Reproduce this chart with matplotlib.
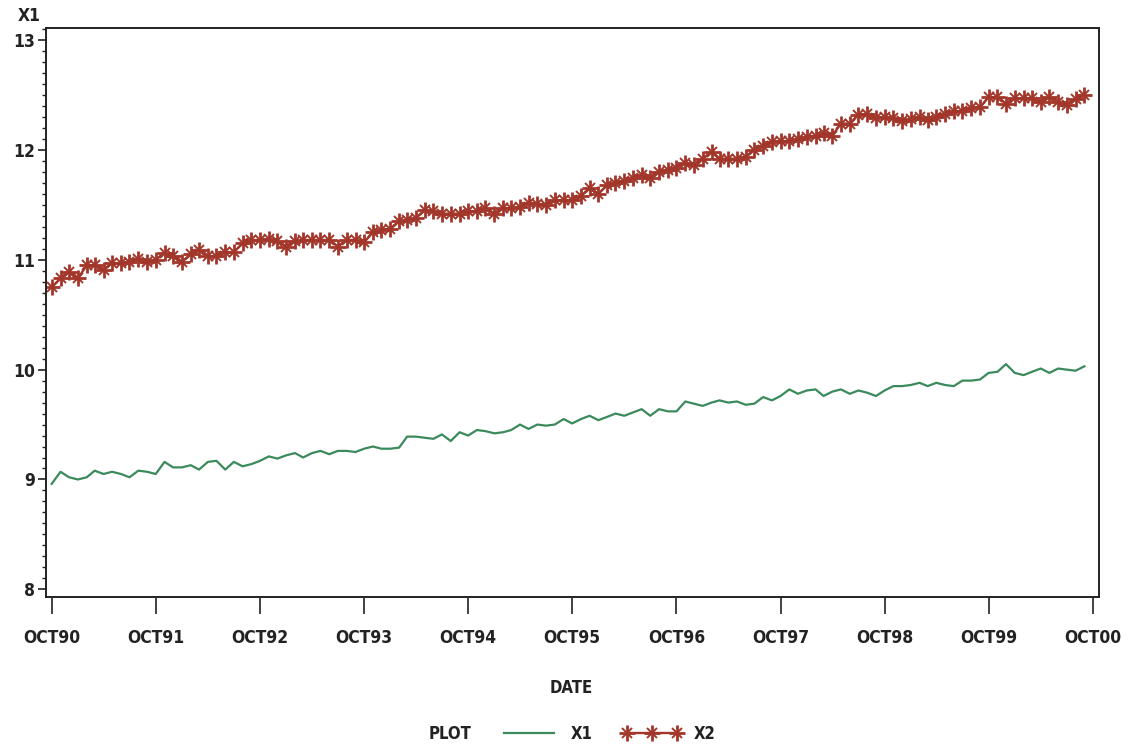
import datetime as dt
import matplotlib
matplotlib.use("Agg")
import matplotlib.pyplot as plt
import matplotlib.dates as mdates
from matplotlib.ticker import MultipleLocator, FixedLocator
from matplotlib.lines import Line2D

# monthly series, Oct 1990 .. Sep 2000
start = dt.date(1990, 10, 1)
x1 = [8.96, 9.07, 9.02, 9.00, 9.02, 9.08, 9.05, 9.07, 9.05, 9.02, 9.08, 9.07,
      9.05, 9.16, 9.11, 9.11, 9.13, 9.09, 9.16, 9.17, 9.09, 9.16, 9.12, 9.14,
      9.17, 9.21, 9.19, 9.22, 9.24, 9.20, 9.24, 9.26, 9.23, 9.26, 9.26, 9.25,
      9.28, 9.30, 9.28, 9.28, 9.29, 9.39, 9.39, 9.38, 9.37, 9.41, 9.35, 9.43,
      9.40, 9.45, 9.44, 9.42, 9.43, 9.45, 9.50, 9.46, 9.50, 9.49, 9.50, 9.55,
      9.51, 9.55, 9.58, 9.54, 9.57, 9.60, 9.58, 9.61, 9.64, 9.58, 9.64, 9.62,
      9.62, 9.71, 9.69, 9.67, 9.70, 9.72, 9.70, 9.71, 9.68, 9.69, 9.75, 9.72,
      9.76, 9.82, 9.78, 9.81, 9.82, 9.76, 9.80, 9.82, 9.78, 9.81, 9.79, 9.76,
      9.81, 9.85, 9.85, 9.86, 9.88, 9.85, 9.88, 9.86, 9.85, 9.90, 9.90, 9.91,
      9.97, 9.98, 10.05, 9.97, 9.95, 9.98, 10.01, 9.97, 10.01, 10.00, 9.99, 10.03]
x2 = [10.75, 10.83, 10.89, 10.83, 10.95, 10.95, 10.91, 10.97, 10.97, 10.98, 11.01, 10.98,
      11.00, 11.06, 11.03, 10.98, 11.05, 11.09, 11.03, 11.03, 11.07, 11.07, 11.15, 11.18,
      11.18, 11.19, 11.17, 11.12, 11.17, 11.18, 11.18, 11.18, 11.18, 11.12, 11.18, 11.18,
      11.16, 11.25, 11.27, 11.28, 11.35, 11.36, 11.38, 11.45, 11.44, 11.42, 11.42, 11.42,
      11.44, 11.44, 11.47, 11.42, 11.47, 11.47, 11.48, 11.52, 11.51, 11.50, 11.54, 11.54,
      11.54, 11.58, 11.65, 11.60, 11.68, 11.70, 11.72, 11.74, 11.77, 11.74, 11.80, 11.82,
      11.84, 11.88, 11.86, 11.92, 11.98, 11.92, 11.92, 11.92, 11.94, 12.00, 12.04, 12.07,
      12.08, 12.08, 12.10, 12.12, 12.13, 12.15, 12.13, 12.24, 12.24, 12.32, 12.33, 12.29,
      12.30, 12.29, 12.26, 12.28, 12.30, 12.27, 12.30, 12.33, 12.35, 12.35, 12.38, 12.39,
      12.48, 12.48, 12.42, 12.47, 12.47, 12.47, 12.44, 12.48, 12.44, 12.41, 12.46, 12.50]
dates = [dt.date(start.year + (start.month - 1 + i) // 12, (start.month - 1 + i) % 12 + 1, 1)
         for i in range(len(x1))]
tick_years = list(range(1990, 2001))
tick_labels = ["OCT%02d" % (y % 100) for y in tick_years]

green = "#3b8a5c"
red = "#a3362a"
ink = "#222222"
plt.rcParams["font.family"] = ["DejaVu Sans"]
plt.rcParams["font.weight"] = "bold"
plt.rcParams["font.stretch"] = "condensed"

fig = plt.figure(figsize=(11.35, 7.47), dpi=100)
ax = fig.add_axes([0.0405, 0.2008, 0.9277, 0.7617])

ax.plot(dates, x1, color=green, lw=1.6)
ax.plot(dates, x2, color=red, lw=1.7, marker="+", ms=11, mew=2.0)
ax.plot(dates, x2, color=red, ls="none", marker="x", ms=7, mew=1.4)

ax.set_xlim(dt.date(1990, 10, 1) - dt.timedelta(days=20),
            dt.date(2000, 10, 1) + dt.timedelta(days=21))
ax.set_ylim(7.93, 13.11)
ax.xaxis.set_major_locator(FixedLocator([mdates.date2num(dt.date(y, 10, 1)) for y in tick_years]))
ax.set_xticklabels(tick_labels)
ax.yaxis.set_major_locator(MultipleLocator(1))
ax.yaxis.set_minor_locator(MultipleLocator(0.1))

for s in ax.spines.values():
    s.set_color(ink)
    s.set_linewidth(1.4)
ax.tick_params(axis="x", length=12, width=1.2, color=ink, labelsize=12.5, pad=11, labelcolor=ink)
ax.tick_params(axis="y", which="major", length=6, width=1.2, color=ink, labelsize=12.5, pad=2, labelcolor=ink)
ax.tick_params(axis="y", which="minor", length=3, width=1.0, color=ink)

fig.text(0.016, 0.978, "X1", fontsize=12.5, fontweight="bold", color=ink, va="center")
fig.text(0.503, 0.079, "DATE", fontsize=12, fontweight="bold", color=ink, ha="center", va="center")

fig.text(0.378, 0.017, "PLOT", fontsize=12, fontweight="bold", color=ink, va="center")
handles = [Line2D([], [], color=green, lw=1.6),
           (Line2D([], [], color=red, lw=1.7, marker="+", ms=11, mew=2.0),
            Line2D([], [], color=red, ls="none", marker="x", ms=7, mew=1.4))]
fig.legend(handles, ["X1", "X2"], loc="center", bbox_to_anchor=(0.535, 0.017), ncol=2,
           frameon=False, handlelength=3.6, numpoints=3, columnspacing=1.8, handletextpad=0.7,
           prop={"size": 12, "weight": "bold", "stretch": "condensed"}, labelcolor=ink)

fig.savefig("out.png", dpi=100)
